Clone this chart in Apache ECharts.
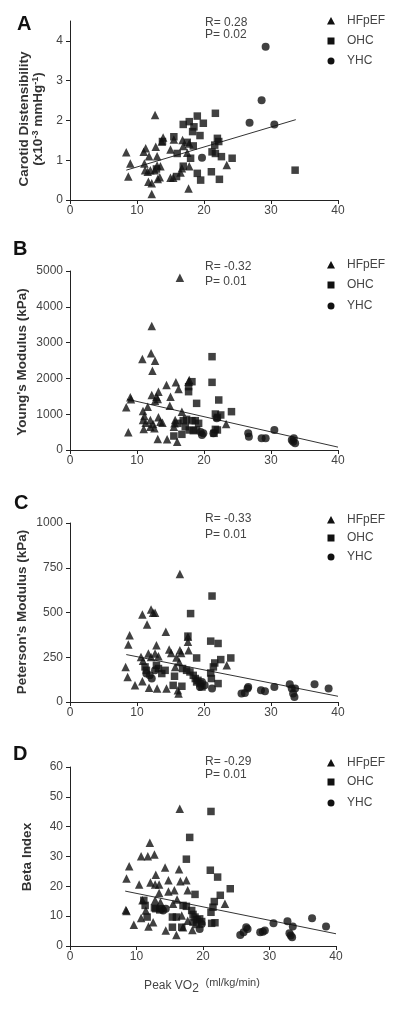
<!DOCTYPE html>
<html>
<head>
<meta charset="utf-8">
<script src="https://cdn.jsdelivr.net/npm/echarts@6/dist/echarts.min.js"></script>
<style>html,body{margin:0;padding:0;background:#fff;}#c{width:400px;height:1012px;}</style>
</head>
<body>
<div id="c"></div>
<script>
// ---------- DATA ----------
const xTicks = [0, 10, 20, 30, 40];
const yTicksA = [0, 1, 2, 3, 4];
const yTicksB = [0, 1000, 2000, 3000, 4000, 5000];
const yTicksC = [0, 250, 500, 750, 1000];
const yTicksD = [0, 10, 20, 30, 40, 50, 60];
const groups = ['HFpEF', 'OHC', 'YHC'];
const panelLetters = ['A', 'B', 'C', 'D'];
const statsR = ['R= 0.28', 'R= -0.32', 'R= -0.33', 'R= -0.29'];
const statsP = ['P= 0.02', 'P= 0.01', 'P= 0.01', 'P= 0.01'];

// Panel A: Carotid distensibility
const hfpefA = [[8.4,1.20],[8.7,0.59],[9.0,0.92],[12.7,2.14],[11.0,1.21],[11.3,1.30],[11.8,1.10],[11.1,0.92],[11.2,0.75],[12.0,0.75],[11.7,0.46],[12.2,0.42],[12.2,0.15],[13.0,1.10],[12.8,1.34],[13.7,1.47],[13.9,1.57],[13.0,0.87],[13.5,0.85],[12.65,0.75],[13.1,0.53],[13.4,0.57],[15.0,1.27],[15.5,1.52],[16.8,1.51],[16.9,1.36],[15.0,0.56],[15.4,0.56],[16.5,0.69],[17.8,1.42],[17.8,0.85],[17.7,0.29],[23.4,0.88],[17.5,1.19],[16.7,0.80],[11.6,0.71]];
const ohcA = [[21.7,2.18],[19.0,2.11],[17.8,1.97],[16.9,1.90],[19.9,1.93],[18.5,1.84],[18.3,1.72],[19.4,1.62],[15.5,1.59],[17.5,1.45],[18.4,1.36],[16.0,1.17],[22.0,1.55],[22.2,1.47],[21.6,1.38],[21.7,1.17],[21.2,1.21],[18.0,1.05],[22.6,1.09],[24.2,1.05],[16.9,0.85],[19.0,0.67],[19.5,0.50],[21.1,0.71],[22.3,0.52],[15.9,0.59],[33.6,0.75],[12.9,0.78],[13.8,1.47]];
const yhcA = [[29.2,3.85],[28.6,2.51],[26.8,1.94],[30.5,1.90],[19.7,1.06]];
const lineA = [[8.4,0.75],[33.7,2.02]];

// Panel B: Young's modulus
const hfpefB = [[16.4,4810],[12.2,3466],[10.8,2541],[12.1,2700],[12.7,2495],[12.3,2216],[9.0,1471],[8.4,1192],[8.7,493],[10.9,1089],[11.1,950],[10.9,838],[11.0,587],[11.6,1210],[12.2,1536],[12.9,1490],[13.2,1629],[13.1,1424],[12.7,1378],[12.4,726],[12.0,652],[12.6,605],[13.2,912],[13.5,791],[13.1,307],[14.4,1815],[15.0,1490],[14.9,1238],[15.8,1890],[16.2,1704],[14.5,298],[16.0,233],[15.7,838],[15.5,652],[17.7,1908],[17.8,1955],[16.7,1071],[23.3,726],[12.0,838],[15.6,745],[9.1,1420],[11.3,760],[13.8,760]];
const ohcB = [[21.2,2607],[21.2,1890],[18.2,1908],[17.7,1769],[17.7,1629],[18.9,1303],[22.2,1397],[24.1,1071],[21.7,1005],[22.5,978],[22.0,912],[16.9,819],[17.4,856],[18.2,819],[18.7,819],[19.2,745],[17.8,559],[18.4,540],[18.9,559],[21.7,577],[22.0,559],[16.7,438],[15.5,391],[21.5,466],[16.1,745],[17.2,652]];
const yhcB = [[19.7,419],[19.9,466],[26.6,466],[26.7,372],[28.6,326],[29.2,326],[30.5,559],[33.1,279],[33.3,233],[33.6,186],[33.4,326],[21.9,885],[21.4,466],[19.5,500]];
const lineB = [[8.5,1420],[40,80]];

// Panel C: Peterson's modulus
const hfpefC = [[16.4,715],[10.8,489],[12.1,517],[12.4,498],[12.7,498],[11.5,433],[8.9,373],[8.7,321],[14.3,392],[8.3,196],[8.6,140],[9.7,93],[10.8,116],[11.8,80],[13.0,75],[14.4,75],[10.6,252],[12.9,317],[12.1,252],[12.7,271],[13.2,256],[14.8,293],[15.1,274],[16.4,289],[16.6,274],[17.6,336],[17.7,289],[16.2,47],[16.1,65],[16.3,224],[15.7,196],[23.4,205],[17.6,364],[15.9,248],[11.7,271],[10.9,230]];
const ohcC = [[21.2,592],[18.0,494],[17.6,368],[21.0,340],[22.1,327],[18.9,246],[22.5,237],[24.0,246],[21.6,218],[21.4,196],[21.0,162],[21.1,131],[22.1,103],[15.6,144],[15.4,93],[16.7,88],[16.8,187],[17.4,177],[17.9,168],[18.4,149],[18.7,131],[19.1,121],[19.4,103],[19.7,84],[18.9,112],[11.2,196],[11.4,177],[12.9,205],[13.2,187],[13.7,159],[14.2,177]];
const yhcC = [[21.2,75],[25.6,47],[26.1,50],[26.5,75],[26.6,84],[28.5,65],[29.1,60],[30.5,84],[32.8,99],[33.1,75],[33.3,47],[33.5,28],[33.6,75],[36.5,99],[38.6,75],[11.4,159],[11.9,149],[12.2,131],[12.7,177],[19.7,112],[20.1,93],[19.4,84]];
const lineC = [[8.4,265],[40,32]];

// Panel D: Beta index
const hfpefD = [[16.5,46],[12.0,34.6],[10.7,30.1],[11.7,30.1],[12.7,30.7],[8.9,26.7],[8.5,22.6],[14.3,26.3],[12.9,23.9],[10.4,20.6],[12.1,21.3],[12.8,20.6],[13.4,20.6],[14.8,22.0],[16.4,25.7],[16.6,21.7],[17.5,22.0],[17.7,18.7],[14.8,18.3],[15.7,18.7],[16.1,15.6],[8.4,12.1],[8.5,11.7],[9.6,7.1],[10.7,9.4],[11.8,6.5],[14.4,5.2],[16.0,3.7],[23.3,14.2],[12.5,8.0],[10.9,15.3],[11.4,11.9],[13.4,17.8],[15.5,14.2],[17.0,6.3],[16.8,10.2],[18.4,5.4],[17.7,8.5],[13.6,14.7],[12.8,15.3]];
const ohcD = [[18.0,36.4],[21.2,45.1],[17.5,29.1],[21.1,25.4],[22.2,23.1],[24.1,19.2],[18.8,17.3],[22.6,17.0],[21.7,14.9],[21.5,13.0],[21.2,11.3],[21.8,7.8],[21.3,7.6],[15.4,9.7],[16.0,9.7],[15.4,6.3],[16.8,6.3],[17.0,13.6],[17.5,13.3],[18.3,11.9],[18.5,10.6],[18.8,9.7],[19.1,8.8],[19.5,9.1],[19.8,8.2],[18.5,8.0],[19.0,7.2],[12.9,12.5],[13.5,12.1],[11.1,15.3],[11.3,13.6],[11.6,9.7],[12.7,12.8]];
const yhcD = [[25.6,3.7],[26.1,4.6],[26.5,6.3],[26.7,5.7],[28.6,4.6],[29.0,4.8],[29.3,5.2],[30.6,7.6],[32.7,8.3],[33.0,4.3],[33.2,3.5],[33.4,2.9],[33.5,6.5],[36.4,9.3],[38.5,6.5],[19.5,5.7],[19.8,7.4],[13.8,12.5],[14.0,11.9],[14.4,12.5]];
const lineD = [[8.3,18.4],[40,4.1]];

// ---------- LAYOUT / STYLE ----------
const FONT = '"Liberation Sans", Arial, sans-serif';
const AX = '#222', LBL = '#444', MK = '#111';
const panels = [
  {h: hfpefA, o: ohcA, y: yhcA, line: lineA, max: 4.5, ticks: yTicksA, top: 21, height: 179, right: 62},
  {h: hfpefB, o: ohcB, y: yhcB, line: lineB, max: 5000, ticks: yTicksB, top: 271, height: 179, right: 62},
  {h: hfpefC, o: ohcC, y: yhcC, line: lineC, max: 1000, ticks: yTicksC, top: 523, height: 179, right: 62},
  {h: hfpefD, o: ohcD, y: yhcD, line: lineD, max: 60, ticks: yTicksD, top: 767, height: 179, right: 64}
];

const grid = panels.map(p => ({left: 70, right: p.right, top: p.top, height: p.height}));
const plain = v => String(v);
const xAxis = panels.map((p, i) => ({
  gridIndex: i, type: 'value', min: 0, max: 40, interval: 10,
  axisLine: {onZero: false, lineStyle: {color: AX, width: 1}},
  axisTick: {length: 4, lineStyle: {color: AX}, customValues: xTicks},
  axisLabel: {color: LBL, fontSize: 12, fontFamily: FONT, margin: 5, customValues: xTicks, formatter: plain},
  splitLine: {show: false}
}));
const yAxis = panels.map((p, i) => ({
  gridIndex: i, type: 'value', min: 0, max: p.max, interval: p.ticks[1] - p.ticks[0],
  axisLine: {show: true, onZero: false, lineStyle: {color: AX, width: 1}},
  axisTick: {show: true, length: 4, lineStyle: {color: AX}, customValues: p.ticks},
  axisLabel: {color: LBL, fontSize: 12, fontFamily: FONT, margin: 7, customValues: p.ticks, formatter: plain},
  splitLine: {show: false}
}));

const series = [];
panels.forEach((p, i) => {
  const common = {type: 'scatter', xAxisIndex: i, yAxisIndex: i, silent: true, itemStyle: {color: MK}};
  series.push(Object.assign({}, common, {name: groups[0], data: p.h, symbol: 'triangle', symbolSize: 8.5}));
  series.push(Object.assign({}, common, {name: groups[1], data: p.o, symbol: 'rect', symbolSize: 7.5}));
  series.push(Object.assign({}, common, {name: groups[2], data: p.y, symbol: 'circle', symbolSize: 8}));
  series.push({type: 'line', xAxisIndex: i, yAxisIndex: i, data: p.line, symbol: 'none', silent: true,
    lineStyle: {color: '#333', width: 1}, z: 1});
});

// ---------- TEXT / LEGEND GRAPHICS ----------
const letterPos = [[17, 24], [13, 249], [14, 503], [13, 754]];
const statPos = [[23, 35], [267, 282], [519, 535], [762, 775]];
const legendRows = [[21, 41, 61], [265, 285, 306], [520, 538, 557], [763, 782, 803]];

const graphic = [];
panels.forEach((p, i) => {
  graphic.push({type: 'text', x: letterPos[i][0], y: letterPos[i][1],
    style: {text: panelLetters[i], font: 'bold 20px ' + FONT, fill: '#111', verticalAlign: 'middle'}});
  graphic.push({type: 'text', x: 205, y: statPos[i][0],
    style: {text: statsR[i], font: '12px ' + FONT, fill: LBL, verticalAlign: 'middle'}});
  graphic.push({type: 'text', x: 205, y: statPos[i][1],
    style: {text: statsP[i], font: '12px ' + FONT, fill: LBL, verticalAlign: 'middle'}});
  const rows = legendRows[i];
  graphic.push({type: 'polygon', shape: {points: [[331, rows[0] - 4], [335, rows[0] + 3.5], [327, rows[0] + 3.5]]}, style: {fill: MK}});
  graphic.push({type: 'rect', shape: {x: 327.5, y: rows[1] - 3.5, width: 7, height: 7}, style: {fill: MK}});
  graphic.push({type: 'circle', shape: {cx: 331, cy: rows[2], r: 3.5}, style: {fill: MK}});
  groups.forEach((g, k) => {
    graphic.push({type: 'text', x: 347, y: rows[k],
      style: {text: g, font: '12px ' + FONT, fill: LBL, verticalAlign: 'middle'}});
  });
});

// y-axis names
graphic.push({type: 'text', x: 31, y: 119, rotation: Math.PI / 2,
  style: {text: 'Carotid Distensibility\n(x10{sup|-3} mmHg{sup|-1})', font: 'bold 13.5px ' + FONT, fill: '#333',
    align: 'center', verticalAlign: 'middle', lineHeight: 14,
    rich: {sup: {font: 'bold 9px ' + FONT, fill: '#333', verticalAlign: 'top', lineHeight: 14}}}});
graphic.push({type: 'text', x: 22, y: 362, rotation: Math.PI / 2,
  style: {text: "Young's Modulus (kPa)", font: 'bold 13.5px ' + FONT, fill: '#333', align: 'center', verticalAlign: 'middle'}});
graphic.push({type: 'text', x: 22, y: 612, rotation: Math.PI / 2,
  style: {text: "Peterson's Modulus (kPa)", font: 'bold 13.5px ' + FONT, fill: '#333', align: 'center', verticalAlign: 'middle'}});
graphic.push({type: 'text', x: 27, y: 857, rotation: Math.PI / 2,
  style: {text: 'Beta Index', font: 'bold 13.5px ' + FONT, fill: '#333', align: 'center', verticalAlign: 'middle'}});
// x-axis name
graphic.push({type: 'text', x: 202, y: 986,
  style: {text: 'Peak VO{sub|2}  {small|(ml/kg/min)}', font: '12px ' + FONT, fill: LBL, align: 'center', verticalAlign: 'middle',
    lineHeight: 18,
    rich: {sub: {font: '12px ' + FONT, fill: LBL, verticalAlign: 'bottom', lineHeight: 18, padding: [8, 0, 0, 0]},
           small: {font: '11px ' + FONT, fill: LBL, verticalAlign: 'top', lineHeight: 18}}}});

const chart = echarts.init(document.getElementById('c'), null, {renderer: 'canvas'});
chart.setOption({animation: false, backgroundColor: '#fff', grid, xAxis, yAxis, series, graphic});
</script>
</body>
</html>
